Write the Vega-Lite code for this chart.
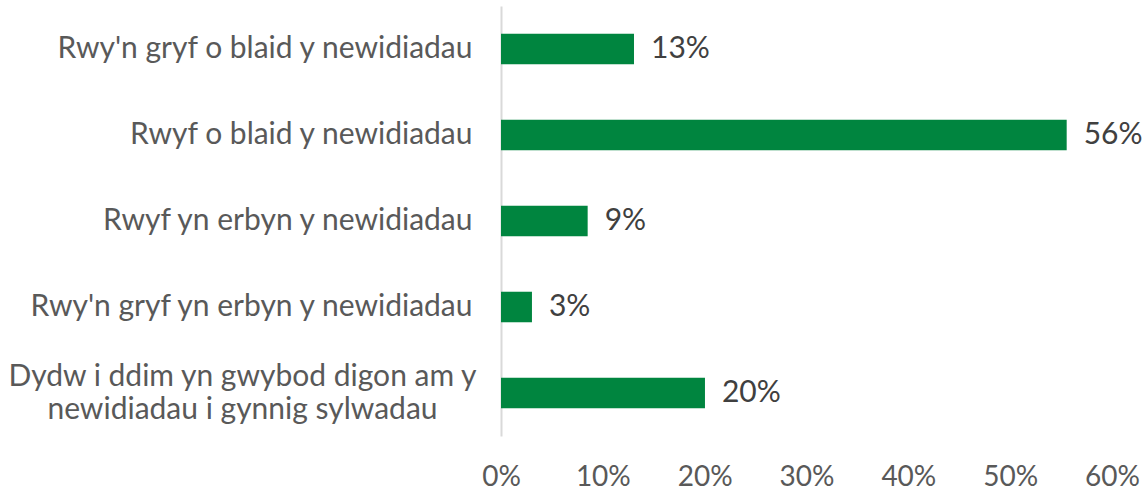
{
  "$schema": "https://vega.github.io/schema/vega-lite/v6.json",
  "autosize": "none",
  "width": 611,
  "height": 430,
  "padding": {"left": 501, "top": 6, "right": 33, "bottom": 56},
  "background": "white",
  "config": {"view": {"stroke": null}, "font": "Lato"},
  "data": {"values": [
    {"cat": "Rwy'n gryf o blaid y newidiadau", "value": 0.1306, "label": "13%"},
    {"cat": "Rwyf o blaid y newidiadau", "value": 0.5555, "label": "56%"},
    {"cat": "Rwyf yn erbyn y newidiadau", "value": 0.0851, "label": "9%"},
    {"cat": "Rwy'n gryf yn erbyn y newidiadau", "value": 0.0304, "label": "3%"},
    {"cat": "Dydw i ddim yn gwybod digon am y|newidiadau i gynnig sylwadau", "value": 0.2003, "label": "20%"}
  ]},
  "encoding": {
    "y": {
      "field": "cat", "type": "nominal", "sort": null,
      "scale": {"paddingInner": 0.645, "paddingOuter": 0.3225},
      "axis": {
        "title": null, "ticks": false, "domainColor": "#d9d9d9", "domainWidth": 2,
        "labelFont": "Lato", "labelFontSize": 30, "labelColor": "#595959",
        "labelLimit": 600, "labelLineHeight": 33,
        "labelExpr": "split(datum.label, '|')",
        "labelAlign": {"condition": {"test": "indexof(datum.value, '|') >= 0", "value": "center"}, "value": "right"},
        "labelPadding": {"condition": {"test": "indexof(datum.value, '|') >= 0", "value": 259}, "value": 29},
        "labelOffset": {"condition": {"test": "indexof(datum.value, '|') >= 0", "value": -16}, "value": 0}
      }
    },
    "x": {
      "field": "value", "type": "quantitative",
      "scale": {"domain": [0, 0.6], "nice": false},
      "axis": {
        "title": null, "format": ".0%", "values": [0, 0.1, 0.2, 0.3, 0.4, 0.5, 0.6],
        "grid": false, "domain": false, "ticks": false,
        "labelFont": "Lato", "labelFontSize": 28, "labelColor": "#595959", "labelPadding": 27,
        "labelFlush": false
      }
    }
  },
  "layer": [
    {"mark": {"type": "bar", "color": "#00853f"}},
    {"mark": {"type": "text", "align": "left", "dx": 17, "font": "Lato", "fontSize": 30, "color": "#404040"},
     "encoding": {"text": {"field": "label"}}}
  ]
}
